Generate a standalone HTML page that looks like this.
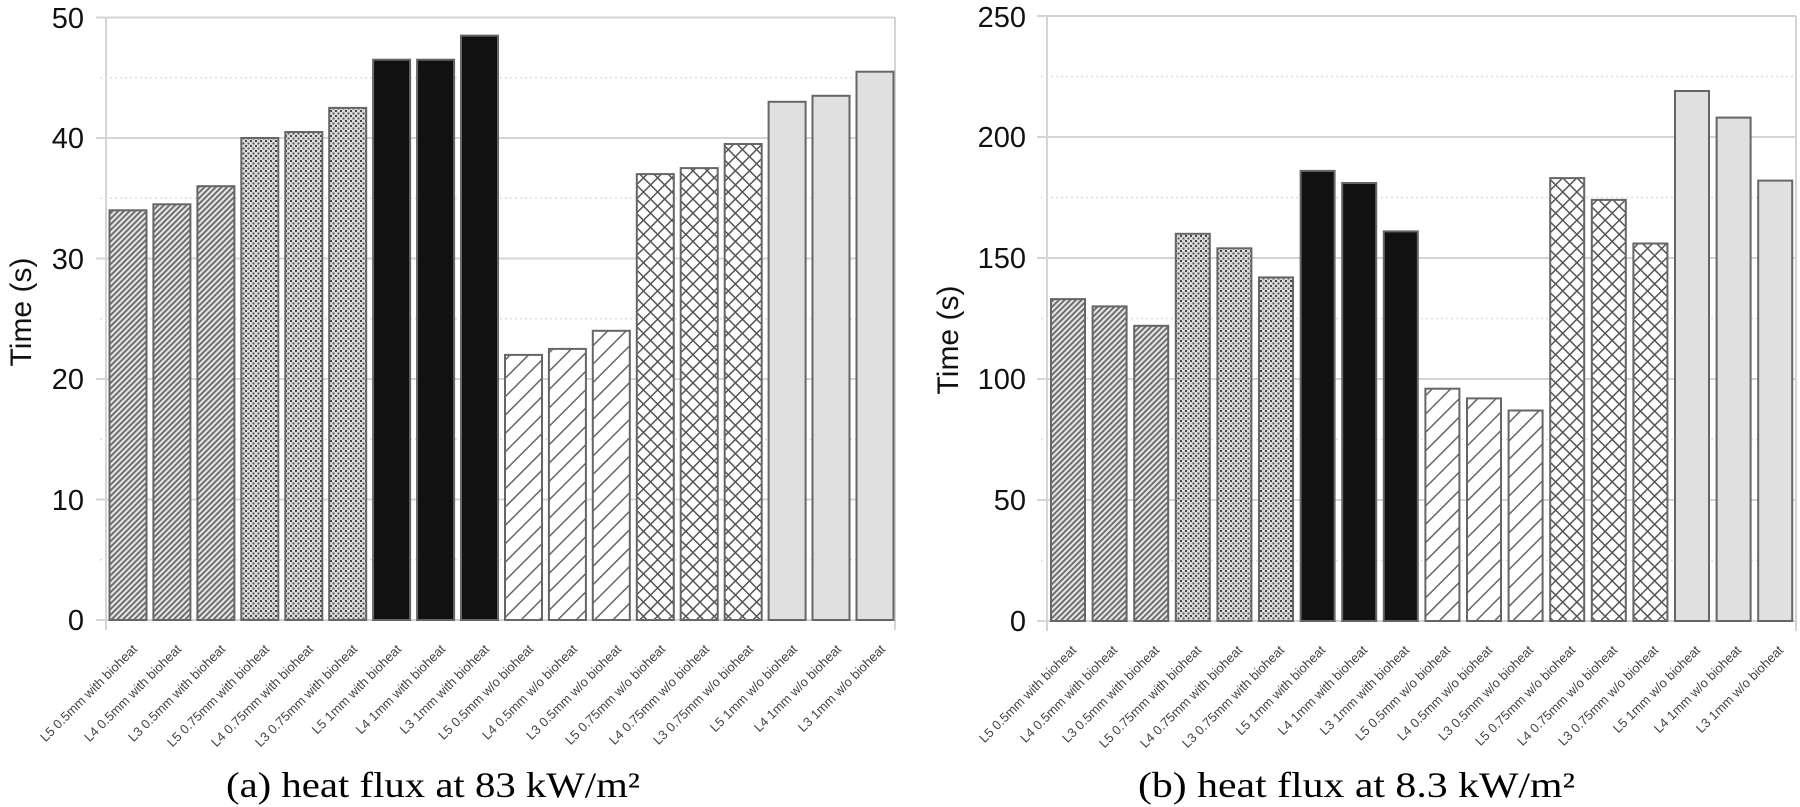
<!DOCTYPE html>
<html><head><meta charset="utf-8"><style>
html,body{margin:0;padding:0;background:#fff;}
svg{display:block;}
.yt{font-family:"Liberation Sans",sans-serif;font-size:29px;fill:#111;text-anchor:end;}
.xl{font-family:"Liberation Sans",sans-serif;font-size:13px;fill:#444;text-anchor:end;}
.cap{font-family:"Liberation Serif",serif;font-size:36px;fill:#000;}
.ax{font-family:"Liberation Sans",sans-serif;font-size:30px;fill:#111;text-anchor:middle;}
</style></head><body>
<svg width="1800" height="807" viewBox="0 0 1800 807" xmlns="http://www.w3.org/2000/svg">
<defs>
<pattern id="p1" width="4" height="4" patternUnits="userSpaceOnUse" patternTransform="rotate(45)"><rect width="4" height="4" fill="#e4e4e4"/><rect width="1.8" height="4" fill="#666"/></pattern>
<pattern id="p2" width="5" height="5" patternUnits="userSpaceOnUse"><rect width="5" height="5" fill="#ddd"/><rect width="2" height="2" fill="#444"/><rect x="2.5" y="2.5" width="2" height="2" fill="#555"/></pattern>
<pattern id="p4" width="13" height="13" patternUnits="userSpaceOnUse" patternTransform="rotate(-45)"><rect width="13" height="13" fill="#fff"/><rect width="13" height="1.5" fill="#666"/></pattern>
<pattern id="p5" width="10" height="10" patternUnits="userSpaceOnUse" patternTransform="rotate(45)"><rect width="10" height="10" fill="#fff"/><rect width="10" height="1.5" fill="#555"/><rect width="1.5" height="10" fill="#555"/></pattern>
</defs>
<g stroke="#d4d4d4" stroke-width="2">
<line x1="96" y1="17.5" x2="895" y2="17.5"/><line x1="96" y1="138" x2="895" y2="138"/><line x1="96" y1="258.5" x2="895" y2="258.5"/><line x1="96" y1="379" x2="895" y2="379"/><line x1="96" y1="499.5" x2="895" y2="499.5"/><line x1="96" y1="620" x2="895" y2="620"/>
<line x1="106" y1="17" x2="106" y2="630"/><line x1="895" y1="17" x2="895" y2="630"/>
<line x1="1037" y1="16" x2="1796" y2="16"/><line x1="1037" y1="137" x2="1796" y2="137"/><line x1="1037" y1="258" x2="1796" y2="258"/><line x1="1037" y1="379" x2="1796" y2="379"/><line x1="1037" y1="500" x2="1796" y2="500"/><line x1="1037" y1="621" x2="1796" y2="621"/>
<line x1="1047" y1="16" x2="1047" y2="631"/><line x1="1796" y1="16" x2="1796" y2="631"/>
</g>
<g stroke="#ddd" stroke-width="1.5" stroke-dasharray="2,3">
<line x1="100" y1="77.75" x2="895" y2="77.75"/><line x1="100" y1="198.25" x2="895" y2="198.25"/><line x1="100" y1="318.75" x2="895" y2="318.75"/><line x1="100" y1="439.25" x2="895" y2="439.25"/><line x1="100" y1="559.75" x2="895" y2="559.75"/>
<line x1="1041" y1="76.5" x2="1796" y2="76.5"/><line x1="1041" y1="197.5" x2="1796" y2="197.5"/><line x1="1041" y1="318.5" x2="1796" y2="318.5"/><line x1="1041" y1="439.5" x2="1796" y2="439.5"/><line x1="1041" y1="560.5" x2="1796" y2="560.5"/>
</g>
<g class="yt">
<text class="yt" x="84" y="28">50</text><text class="yt" x="84" y="148">40</text><text class="yt" x="84" y="269">30</text><text class="yt" x="84" y="389">20</text><text class="yt" x="84" y="510">10</text><text class="yt" x="84" y="630">0</text>
<text class="yt" x="1026" y="27">250</text><text class="yt" x="1026" y="147">200</text><text class="yt" x="1026" y="268">150</text><text class="yt" x="1026" y="389">100</text><text class="yt" x="1026" y="510">50</text><text class="yt" x="1026" y="631">0</text>
</g>
<text class="ax" transform="translate(31,312) rotate(-90)">Time (s)</text>
<text class="ax" transform="translate(958,340) rotate(-90)">Time (s)</text>
<g stroke="#666" stroke-width="2">
<rect x="109.5" y="210.3" width="37" height="409.7" fill="url(#p1)"/>
<rect x="153.4" y="204.3" width="37" height="415.7" fill="url(#p1)"/>
<rect x="197.4" y="186.2" width="37" height="433.8" fill="url(#p1)"/>
<rect x="241.3" y="138" width="37" height="482" fill="url(#p2)"/>
<rect x="285.3" y="132" width="37" height="488" fill="url(#p2)"/>
<rect x="329.2" y="107.9" width="37" height="512.1" fill="url(#p2)"/>
<rect x="373.1" y="59.7" width="37" height="560.3" fill="#111"/>
<rect x="417.1" y="59.7" width="37" height="560.3" fill="#111"/>
<rect x="461" y="35.6" width="37" height="584.4" fill="#111"/>
<rect x="505" y="354.9" width="37" height="265.1" fill="url(#p4)"/>
<rect x="548.9" y="348.9" width="37" height="271.1" fill="url(#p4)"/>
<rect x="592.8" y="330.8" width="37" height="289.2" fill="url(#p4)"/>
<rect x="636.8" y="174.1" width="37" height="445.9" fill="url(#p5)"/>
<rect x="680.7" y="168.1" width="37" height="451.9" fill="url(#p5)"/>
<rect x="724.7" y="144" width="37" height="476" fill="url(#p5)"/>
<rect x="768.6" y="101.8" width="37" height="518.2" fill="#e0e0e0"/>
<rect x="812.5" y="95.8" width="37" height="524.2" fill="#e0e0e0"/>
<rect x="856.5" y="71.7" width="37" height="548.3" fill="#e0e0e0"/>
<rect x="1051" y="299.1" width="34" height="321.9" fill="url(#p1)"/>
<rect x="1092.6" y="306.4" width="34" height="314.6" fill="url(#p1)"/>
<rect x="1134.2" y="325.8" width="34" height="295.2" fill="url(#p1)"/>
<rect x="1175.8" y="233.8" width="34" height="387.2" fill="url(#p2)"/>
<rect x="1217.4" y="248.3" width="34" height="372.7" fill="url(#p2)"/>
<rect x="1259" y="277.4" width="34" height="343.6" fill="url(#p2)"/>
<rect x="1300.6" y="170.9" width="34" height="450.1" fill="#111"/>
<rect x="1342.2" y="183" width="34" height="438" fill="#111"/>
<rect x="1383.8" y="231.4" width="34" height="389.6" fill="#111"/>
<rect x="1425.4" y="388.7" width="34" height="232.3" fill="url(#p4)"/>
<rect x="1467" y="398.4" width="34" height="222.6" fill="url(#p4)"/>
<rect x="1508.6" y="410.5" width="34" height="210.5" fill="url(#p4)"/>
<rect x="1550.2" y="178.1" width="34" height="442.9" fill="url(#p5)"/>
<rect x="1591.8" y="199.9" width="34" height="421.1" fill="url(#p5)"/>
<rect x="1633.4" y="243.5" width="34" height="377.5" fill="url(#p5)"/>
<rect x="1675" y="91" width="34" height="530" fill="#e0e0e0"/>
<rect x="1716.6" y="117.6" width="34" height="503.4" fill="#e0e0e0"/>
<rect x="1758.2" y="180.6" width="34" height="440.4" fill="#e0e0e0"/>
</g>
<g class="xl">
<text class="xl" transform="translate(138,650) rotate(-45)">L5 0.5mm with bioheat</text>
<text class="xl" transform="translate(182,650) rotate(-45)">L4 0.5mm with bioheat</text>
<text class="xl" transform="translate(226,650) rotate(-45)">L3 0.5mm with bioheat</text>
<text class="xl" transform="translate(270,650) rotate(-45)">L5 0.75mm with bioheat</text>
<text class="xl" transform="translate(314,650) rotate(-45)">L4 0.75mm with bioheat</text>
<text class="xl" transform="translate(358,650) rotate(-45)">L3 0.75mm with bioheat</text>
<text class="xl" transform="translate(402,650) rotate(-45)">L5 1mm with bioheat</text>
<text class="xl" transform="translate(446,650) rotate(-45)">L4 1mm with bioheat</text>
<text class="xl" transform="translate(490,650) rotate(-45)">L3 1mm with bioheat</text>
<text class="xl" transform="translate(534,650) rotate(-45)">L5 0.5mm w/o bioheat</text>
<text class="xl" transform="translate(578,650) rotate(-45)">L4 0.5mm w/o bioheat</text>
<text class="xl" transform="translate(622,650) rotate(-45)">L3 0.5mm w/o bioheat</text>
<text class="xl" transform="translate(666,650) rotate(-45)">L5 0.75mm w/o bioheat</text>
<text class="xl" transform="translate(710,650) rotate(-45)">L4 0.75mm w/o bioheat</text>
<text class="xl" transform="translate(754,650) rotate(-45)">L3 0.75mm w/o bioheat</text>
<text class="xl" transform="translate(798,650) rotate(-45)">L5 1mm w/o bioheat</text>
<text class="xl" transform="translate(842,650) rotate(-45)">L4 1mm w/o bioheat</text>
<text class="xl" transform="translate(886,650) rotate(-45)">L3 1mm w/o bioheat</text>
<text class="xl" transform="translate(1077,651) rotate(-45)">L5 0.5mm with bioheat</text>
<text class="xl" transform="translate(1118,651) rotate(-45)">L4 0.5mm with bioheat</text>
<text class="xl" transform="translate(1160,651) rotate(-45)">L3 0.5mm with bioheat</text>
<text class="xl" transform="translate(1202,651) rotate(-45)">L5 0.75mm with bioheat</text>
<text class="xl" transform="translate(1243,651) rotate(-45)">L4 0.75mm with bioheat</text>
<text class="xl" transform="translate(1285,651) rotate(-45)">L3 0.75mm with bioheat</text>
<text class="xl" transform="translate(1326,651) rotate(-45)">L5 1mm with bioheat</text>
<text class="xl" transform="translate(1368,651) rotate(-45)">L4 1mm with bioheat</text>
<text class="xl" transform="translate(1410,651) rotate(-45)">L3 1mm with bioheat</text>
<text class="xl" transform="translate(1451,651) rotate(-45)">L5 0.5mm w/o bioheat</text>
<text class="xl" transform="translate(1493,651) rotate(-45)">L4 0.5mm w/o bioheat</text>
<text class="xl" transform="translate(1534,651) rotate(-45)">L3 0.5mm w/o bioheat</text>
<text class="xl" transform="translate(1576,651) rotate(-45)">L5 0.75mm w/o bioheat</text>
<text class="xl" transform="translate(1618,651) rotate(-45)">L4 0.75mm w/o bioheat</text>
<text class="xl" transform="translate(1659,651) rotate(-45)">L3 0.75mm w/o bioheat</text>
<text class="xl" transform="translate(1701,651) rotate(-45)">L5 1mm w/o bioheat</text>
<text class="xl" transform="translate(1742,651) rotate(-45)">L4 1mm w/o bioheat</text>
<text class="xl" transform="translate(1784,651) rotate(-45)">L3 1mm w/o bioheat</text>
</g>
<text class="cap" x="226" y="797" textLength="414" lengthAdjust="spacingAndGlyphs">(a) heat flux at 83 kW/m²</text>
<text class="cap" x="1138" y="797" textLength="437" lengthAdjust="spacingAndGlyphs">(b) heat flux at 8.3 kW/m²</text>
</svg>
</body></html>
